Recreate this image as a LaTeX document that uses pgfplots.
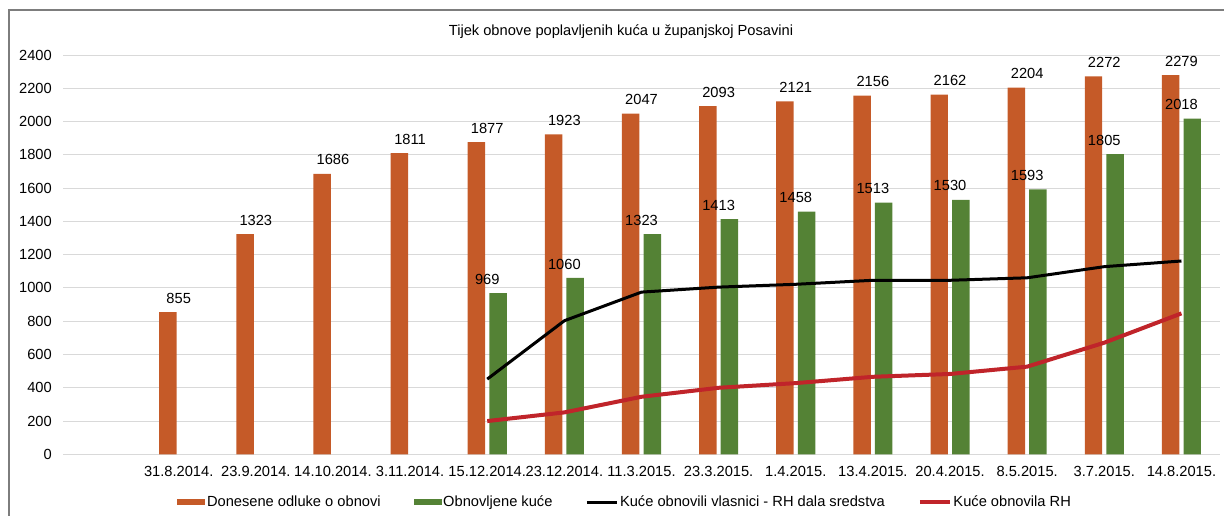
\documentclass[border=0pt]{standalone}
\usepackage{fontspec}
\setmainfont{Liberation Sans}
\usepackage{graphicx}
\usepackage{pgfplots}
\pgfplotsset{compat=1.18}
\definecolor{corange}{RGB}{197,90,40}
\definecolor{cgreen}{RGB}{84,130,53}
\definecolor{cred}{RGB}{192,36,42}
\definecolor{cgrid}{RGB}{217,217,217}
\definecolor{cframe}{RGB}{125,125,125}
\newcommand{\fnt}{\fontsize{11}{13}\selectfont}
\begin{document}
\begin{tikzpicture}
\useasboundingbox (0,0) rectangle (918pt,386.25pt);
\draw[cframe, line width=1.5pt] (6.75pt,-5pt) -- (6.75pt,378.75pt) -- (925pt,378.75pt);
\node[anchor=base, font=\fnt, inner sep=0pt] at (465.75pt,359.25pt) {Tijek obnove poplavljenih kuća u županjskoj Posavini};
\begin{axis}[
  at={(47.25pt,45.5pt)}, anchor=south west,
  scale only axis, width=867.75pt, height=299.5pt,
  xmin=-1.5, xmax=13.5, ymin=0, ymax=2400,
  ytick={0,200,...,2400},
  xtick={0,...,13},
  xticklabels={31.8.2014.,23.9.2014.,14.10.2014.,3.11.2014.,15.12.2014.,23.12.2014.,11.3.2015.,23.3.2015.,1.4.2015.,13.4.2015.,20.4.2015.,8.5.2015.,3.7.2015.,14.8.2015.},
  axis line style={draw=none},
  major tick length=0pt,
  ymajorgrids, grid style={cgrid, line width=0.75pt},
  /pgf/number format/assume math mode=true,
  yticklabel style={font=\fnt, anchor=east, inner sep=0pt, xshift=-8.25pt},
  xticklabel style={font=\fnt, anchor=north, inner sep=0pt, yshift=-8.8pt},
  scaled y ticks=false,
  yticklabel={\pgfmathprintnumber[fixed,1000 sep={}]{\tick}},
  clip=false,
  legend columns=4,
  legend style={draw=none, fill=none, font=\fnt, at={(0.4857,-0.12)}, anchor=center,
    /tikz/every even column/.append style={column sep=23.5pt},
    nodes={inner xsep=1.2pt, inner ysep=0pt}},
  nodes near coords style={font=\fnt, inner sep=0pt, anchor=south, yshift=6.4pt},
]
\addplot[ybar, bar width=13.1pt, bar shift=-8.1pt, fill=corange, draw=none,
  nodes near coords, point meta=explicit symbolic,
  legend image code/.code={\fill[corange] (0pt,-2.25pt) rectangle (21pt,2.25pt);}]
  table[meta=y] {
x y
0 855
1 1323
2 1686
3 1811
4 1877
5 1923
6 2047
7 2093
8 2121
9 2156
10 2162
11 2204
12 2272
13 2279
};
\addlegendentry{Donesene odluke o obnovi}
\addplot[ybar, bar width=13.1pt, bar shift=8.1pt, fill=cgreen, draw=none,
  nodes near coords, point meta=explicit symbolic,
  legend image code/.code={\fill[cgreen] (0pt,-2.25pt) rectangle (21pt,2.25pt);}]
  table[meta=y] {
x y
4 969
5 1060
6 1323
7 1413
8 1458
9 1513
10 1530
11 1593
12 1805
13 2018
};
\addlegendentry{Obnovljene kuće}
\addplot[black, line width=2.25pt, mark=none,
  legend image code/.code={\draw[black, line width=2.25pt] (0pt,0pt) -- (22.5pt,0pt);}]
  coordinates {(4,452) (5,803) (6,975) (7,1005) (8,1022) (9,1046) (10,1046) (11,1061) (12,1128) (13,1162)};
\addlegendentry{Kuće obnovili vlasnici - RH dala sredstva}
\addplot[cred, line width=3pt, mark=none,
  legend image code/.code={\draw[cred, line width=3pt] (0pt,0pt) -- (22.5pt,0pt);}]
  coordinates {(4,200) (5,252) (6,346) (7,400) (8,428) (9,466) (10,483) (11,527) (12,671) (13,847)};
\addlegendentry{Kuće obnovila RH}
\end{axis}
\end{tikzpicture}
\end{document}
